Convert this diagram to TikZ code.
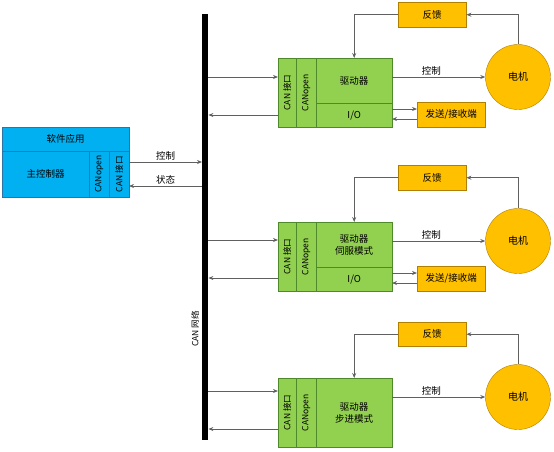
\documentclass[tikz,border=0pt]{standalone}
\usepackage{fontspec}
\setmainfont{Noto Sans CJK SC}
\usetikzlibrary{arrows.meta,calc}
\definecolor{cblue}{HTML}{00B0F0}
\definecolor{cbluedk}{HTML}{2E75A6}
\definecolor{cgreen}{HTML}{92D050}
\definecolor{cgreendk}{HTML}{4E8A2A}
\definecolor{corange}{HTML}{FFC000}
\definecolor{corangedk}{HTML}{B07F00}
\definecolor{cline}{HTML}{606060}
\tikzset{
  box/.style={draw, inner sep=0pt, anchor=north west, font=\fontsize{9.5}{12}\selectfont, align=center},
  bluebox/.style={box, fill=cblue, draw=cbluedk},
  greenbox/.style={box, fill=cgreen, draw=cgreendk},
  orangebox/.style={box, fill=corange, draw=corangedk},
  vtext/.style={rotate=90, font=\fontsize{8.5}{9}\selectfont},
  arr/.style={draw=cline, line width=0.8pt, -{Stealth[length=5pt,width=4pt]}},
  lbl/.style={font=\fontsize{9.5}{10}\selectfont, inner sep=1.5pt},
  motor/.style={circle, draw=corangedk, fill=corange, minimum size=65pt, inner sep=0pt, font=\fontsize{10}{11}\selectfont}
}
\begin{document}
\begin{tikzpicture}[x=1pt,y=-1pt]
\useasboundingbox (0,0) rectangle (554,451);
% bus
\node[fill=black, inner sep=0pt, minimum width=6pt, minimum height=426pt, anchor=north west] (bus) at (202,14) {};
\node[vtext] (buslbl) at (195,329) {CAN 网络};
% left controller
\node[bluebox, minimum width=127pt, minimum height=24pt] (app) at (2,127) {软件应用};
\node[bluebox, minimum width=87pt, minimum height=46pt] (mainc) at (2,151) {主控制器};
\node[bluebox, minimum width=20pt, minimum height=46pt] (lopen) at (89,151) {};
\node[vtext] at (lopen.center) {CANopen};
\node[bluebox, minimum width=20pt, minimum height=46pt] (lcan) at (109,151) {};
\node[vtext] at (lcan.center) {CAN 接口};
\coordinate (lc1) at (129,162);
\coordinate (lc2) at (129,186);
\draw[arr] (lc1) -- (lc1 -| bus.west) node[lbl, midway, above] {控制};
\draw[arr] (lc2 -| bus.west) -- (lc2) node[lbl, midway, above] {状态};

% ===== block 1 =====
\node[greenbox, minimum width=18pt, minimum height=69pt] (can1) at (278,58) {};
\node[vtext] at (can1.center) {CAN 接口};
\node[greenbox, minimum width=20pt, minimum height=69pt] (open1) at (296,58) {};
\node[vtext] at (open1.center) {CANopen};
\node[greenbox, minimum width=76pt, minimum height=45pt] (drv1) at (316,58) {驱动器};
\node[greenbox, minimum width=76pt, minimum height=24pt] (io1) at (316,103) {I/O};
\node[orangebox, minimum width=68pt, minimum height=25pt] (fb1) at (398,2) {反馈};
\node[orangebox, minimum width=68pt, minimum height=25pt] (tx1) at (417,102) {发送/接收端};
\node[motor] (m1) at (518,77) {电机};
\coordinate (b1a) at (278,77);
\coordinate (b1b) at (278,115);
\draw[arr] (b1a -| bus.east) -- (b1a);
\draw[arr] (b1b) -- (b1b -| bus.east);
\draw[arr] (m1.north) |- (fb1.east);
\draw[arr] (fb1.west) -| (drv1.north);
\draw[arr] (m1.west -| drv1.east) -- (m1.west) node[lbl, pos=0.42, above] {控制};
\coordinate (io1a) at (392,109);
\coordinate (io1b) at (392,119);
\draw[arr] (io1a) -- (io1a -| tx1.west);
\draw[arr] (io1b -| tx1.west) -- (io1b);

% ===== block 2 =====
\node[greenbox, minimum width=18pt, minimum height=69pt] (can2) at (278,222) {};
\node[vtext] at (can2.center) {CAN 接口};
\node[greenbox, minimum width=20pt, minimum height=69pt] (open2) at (296,222) {};
\node[vtext] at (open2.center) {CANopen};
\node[greenbox, minimum width=76pt, minimum height=45pt] (drv2) at (316,222) {驱动器\\伺服模式};
\node[greenbox, minimum width=76pt, minimum height=24pt] (io2) at (316,267) {I/O};
\node[orangebox, minimum width=68pt, minimum height=25pt] (fb2) at (398,165) {反馈};
\node[orangebox, minimum width=68pt, minimum height=25pt] (tx2) at (417,266) {发送/接收端};
\node[motor] (m2) at (518,241) {电机};
\coordinate (b2a) at (278,240);
\coordinate (b2b) at (278,278);
\draw[arr] (b2a -| bus.east) -- (b2a);
\draw[arr] (b2b) -- (b2b -| bus.east);
\draw[arr] (m2.north) |- (fb2.east);
\draw[arr] (fb2.west) -| (drv2.north);
\draw[arr] (m2.west -| drv2.east) -- (m2.west) node[lbl, pos=0.42, above] {控制};
\coordinate (io2a) at (392,273);
\coordinate (io2b) at (392,283);
\draw[arr] (io2a) -- (io2a -| tx2.west);
\draw[arr] (io2b -| tx2.west) -- (io2b);

% ===== block 3 =====
\node[greenbox, minimum width=18pt, minimum height=69pt] (can3) at (278,378) {};
\node[vtext] at (can3.center) {CAN 接口};
\node[greenbox, minimum width=20pt, minimum height=69pt] (open3) at (296,378) {};
\node[vtext] at (open3.center) {CANopen};
\node[greenbox, minimum width=76pt, minimum height=69pt] (drv3) at (316,378) {驱动器\\步进模式};
\node[orangebox, minimum width=68pt, minimum height=24pt] (fb3) at (398,322) {反馈};
\node[motor] (m3) at (518,397) {电机};
\coordinate (b3a) at (278,391);
\coordinate (b3b) at (278,429);
\draw[arr] (b3a -| bus.east) -- (b3a);
\draw[arr] (b3b) -- (b3b -| bus.east);
\draw[arr] (m3.north) |- (fb3.east);
\draw[arr] (fb3.west) -| (drv3.north);
\draw[arr] (m3.west -| drv3.east) -- (m3.west) node[lbl, pos=0.42, above] {控制};
\end{tikzpicture}
\end{document}
